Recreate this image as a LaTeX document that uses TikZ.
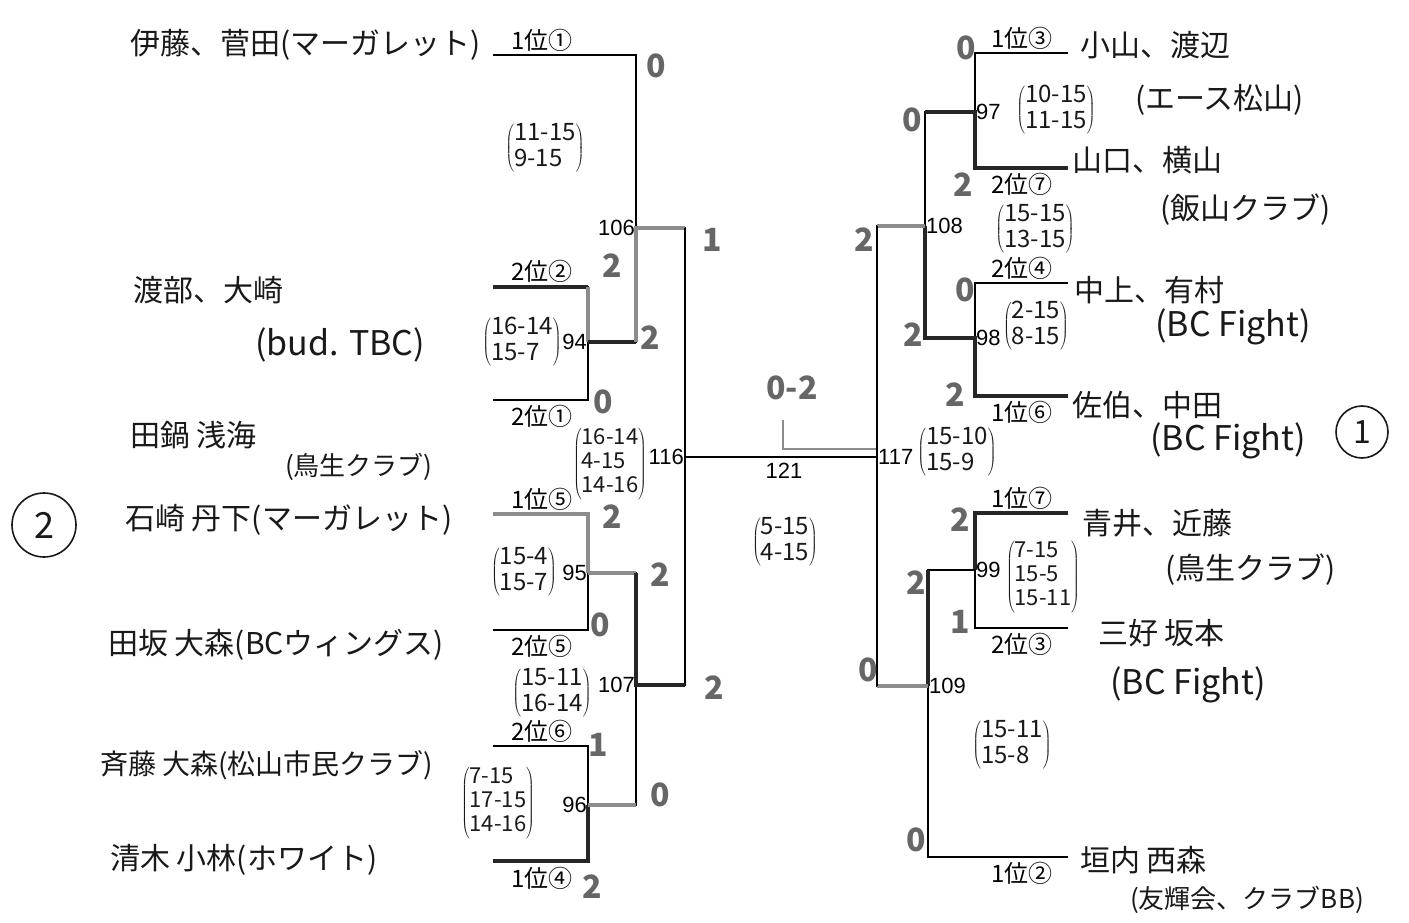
\documentclass[tikz,border=0pt]{standalone}
\usepackage{fontspec}
\setmainfont{Noto Sans CJK JP}
\newfontfamily\printfont{Liberation Sans}
\begin{document}
\begin{tikzpicture}[x=1pt,y=-1pt,
  thin/.style={line width=1.4pt,black},
  pen/.style={line width=3.4pt,black!85},
  pencil/.style={line width=3.4pt,black!45},
  lbl/.style={font=\fontsize{24}{24}\selectfont,inner sep=0pt},
  num/.style={font=\printfont\fontsize{22}{22}\selectfont,inner sep=1pt},
  hand/.style={font=\fontsize{30}{30}\selectfont,inner sep=0pt,black!90},
  handl/.style={font=\fontsize{34}{34}\selectfont,inner sep=0pt,black!90},
  score/.style={font=\fontsize{24}{26}\selectfont,inner sep=0pt,black!90},
  score3/.style={font=\fontsize{22}{24}\selectfont,inner sep=0pt,black!90},
  pts/.style={font=\fontsize{32}{32}\selectfont\bfseries,inner sep=0pt,black!60}]
\useasboundingbox (0,0) rectangle (1409,923);
\fill[white] (0,0) rectangle (1409,923);
% ---------- left bracket coordinates ----------
\coordinate (a1) at (493,55);  \coordinate (a1e) at (636,55);
\coordinate (a2) at (493,287); \coordinate (a2e) at (588,287);
\coordinate (a3) at (493,400); \coordinate (a3e) at (588,400);
\coordinate (m94) at (588,342); \coordinate (m94e) at (636,342);
\coordinate (m106) at (636,228); \coordinate (m106e) at (685,228);
\coordinate (a5) at (493,514); \coordinate (a5e) at (588,514);
\coordinate (a6) at (493,630); \coordinate (a6e) at (588,630);
\coordinate (m95) at (588,573); \coordinate (m95e) at (636,573);
\coordinate (a7) at (493,746); \coordinate (a7e) at (588,746);
\coordinate (a8) at (493,861); \coordinate (a8e) at (588,861);
\coordinate (m96) at (588,805); \coordinate (m96e) at (636,805);
\coordinate (m107) at (636,685); \coordinate (m107e) at (685,685);
\coordinate (m116) at (685,457); \coordinate (m117) at (877,457);
% ---------- right bracket coordinates ----------
\coordinate (b1) at (1068,53);  \coordinate (b1e) at (975,53);
\coordinate (b2) at (1068,168); \coordinate (b2e) at (975,168);
\coordinate (m97) at (975,112); \coordinate (m97e) at (925,112);
\coordinate (b3) at (1068,283); \coordinate (b3e) at (975,283);
\coordinate (b4) at (1068,396); \coordinate (b4e) at (975,396);
\coordinate (m98) at (975,338); \coordinate (m98e) at (925,338);
\coordinate (m108) at (925,226); \coordinate (m108e) at (877,226);
\coordinate (b5) at (1068,513); \coordinate (b5e) at (975,513);
\coordinate (b6) at (1068,628); \coordinate (b6e) at (975,628);
\coordinate (m99) at (975,570); \coordinate (m99e) at (928,570);
\coordinate (b8) at (1068,857); \coordinate (b8e) at (928,857);
\coordinate (m109) at (928,686); \coordinate (m109e) at (877,686);
\coordinate (t121) at (783,420); \coordinate (t121b) at (783,449); \coordinate (t121e) at (877,449);
% ---------- printed bracket ----------
\draw[thin] (a1) -- (a1e) -- (m94e) -- (m94) (a2) -- (a2e) -- (a3e) -- (a3);
\draw[thin] (m106) -- (m106e) -- (m107e) -- (m107);
\draw[thin] (a5) -- (a5e) -- (a6e) -- (a6) (m95) -- (m95e) -- (m96e) -- (m96);
\draw[thin] (a7) -- (a7e) -- (a8e) -- (a8);
\draw[thin] (m116) -- (m117);
\draw[thin] (b1) -- (b1e) -- (b2e) -- (b2) (m97) -- (m97e) -- (m98e) -- (m98);
\draw[thin] (b3) -- (b3e) -- (b4e) -- (b4) (m108) -- (m108e) -- (m109e) -- (m109);
\draw[thin] (b5) -- (b5e) -- (b6e) -- (b6) (m99) -- (m99e) -- (b8e) -- (b8);
% ---------- pen traced winners ----------
\draw[pen] (a2) -- (a2e);
\draw[pencil] (a2e) -- (m94);
\draw[pen] (m94) -- (m94e);
\draw[pencil] (m94e) -- (m106) -- (m106e);
\draw[line width=2.4pt] (m106e) -- (m107e);
\draw[pencil] (a5) -- (a5e) -- (m95);
\draw[pencil] (m95) -- (m95e);
\draw[pen] (m95e) -- (m107) -- (m107e);
\draw[pen] (a8) -- (a8e) -- (m96);
\draw[pencil] (m96) -- (m96e);
\draw[pencil,line width=2.6pt] (t121) -- (t121b) -- (t121e);
\draw[pen] (m97e) -- (m97) -- (b2e) -- (b2);
\draw[pen] (m108) -- (m98e) -- (m98) -- (b4e) -- (b4);
\draw[pencil] (m108e) -- (m108);
\draw[pen] (b5) -- (b5e) -- (m99);
\draw[line width=2.4pt] (m99) -- (m99e);
\draw[pen] (m99e) -- (m109);
\draw[pencil] (m109) -- (m109e);
\draw[line width=2pt] (m108e) -- (m109e);
% ---------- printed labels ----------
\node[lbl] (la1) at (542,40) {1位①};
\node[lbl] (la2) at (542,271) {2位②};
\node[lbl] (la3) at (542,416) {2位①};
\node[lbl] (la5) at (542,499) {1位⑤};
\node[lbl] (la6) at (542,646) {2位⑤};
\node[lbl] (la7) at (542,731) {2位⑥};
\node[lbl] (la8) at (542,878) {1位④};
\node[lbl] (lb1) at (1022,38) {1位③};
\node[lbl] (lb2) at (1022,184) {2位⑦};
\node[lbl] (lb3) at (1022,268) {2位④};
\node[lbl] (lb4) at (1022,412) {1位⑥};
\node[lbl] (lb5) at (1022,498) {1位⑦};
\node[lbl] (lb6) at (1022,644) {2位③};
\node[lbl] (lb8) at (1022,873) {1位②};
\node[num,anchor=east] (n106) at (m106) {106};
\node[num,anchor=east] (n94) at (m94) {94};
\node[num,anchor=east] (n116) at (m116) {116};
\node[num,anchor=east] (n95) at (m95) {95};
\node[num,anchor=east] (n107) at (m107) {107};
\node[num,anchor=east] (n96) at (m96) {96};
\node[num] (n121) at (784,471) {121};
\node[num,anchor=west] (n97) at (m97) {97};
\node[num,anchor=west] (n108) at (m108) {108};
\node[num,anchor=west] (n98) at (m98) {98};
\node[num,anchor=west] (n117) at (m117) {117};
\node[num,anchor=west] (n99) at (m99) {99};
\node[num,anchor=west] (n109) at (m109) {109};
% ---------- handwritten names ----------
\node[hand,anchor=west] (p1) at (130,45) {伊藤、菅田(マーガレット)};
\node[hand,anchor=west] (p2) at (133,290) {渡部、大崎};
\node[handl,anchor=west] (p2c) at (255,345) {(bud. TBC)};
\node[hand,anchor=west] (p3) at (130,435) {田鍋\ 浅海};
\node[hand,anchor=west,font=\fontsize{26}{26}\selectfont] (p3c) at (285,467) {(鳥生クラブ)};
\node[hand,anchor=west] (p5) at (125,520) {石崎\ 丹下(マーガレット)};
\node[hand,anchor=west] (p6) at (108,645) {田坂\ 大森(BCウィングス)};
\node[hand,anchor=west,font=\fontsize{28}{28}\selectfont] (p7) at (100,765) {斉藤\ 大森(松山市民クラブ)};
\node[hand,anchor=west] (p8) at (110,860) {清木\ 小林(ホワイト)};
\node[hand,draw,circle,line width=1.6pt,minimum size=64pt,font=\fontsize{36}{36}\selectfont] (rank2) at (44,525) {2};
\node[hand,anchor=west] (q1) at (1080,45) {小山、渡辺};
\node[hand,anchor=west] (q1c) at (1135,100) {(エース松山)};
\node[hand,anchor=west] (q2) at (1072,160) {山口、横山};
\node[hand,anchor=west] (q2c) at (1160,210) {(飯山クラブ)};
\node[hand,anchor=west] (q3) at (1074,290) {中上、有村};
\node[handl,anchor=west] (q3c) at (1155,327) {(BC Fight)};
\node[hand,anchor=west] (q4) at (1072,405) {佐伯、中田};
\node[handl,anchor=west] (q4c) at (1150,441) {(BC Fight)};
\node[hand,draw,circle,line width=1.6pt,minimum size=52pt,font=\fontsize{32}{32}\selectfont] (rank1) at (1362,432) {1};
\node[hand,anchor=west] (q5) at (1082,523) {青井、近藤};
\node[hand,anchor=west] (q5c) at (1165,570) {(鳥生クラブ)};
\node[hand,anchor=west] (q6) at (1098,633) {三好\ 坂本};
\node[handl,anchor=west] (q6c) at (1110,685) {(BC Fight)};
\node[hand,anchor=west] (q8) at (1080,860) {垣内\ 西森};
\node[hand,anchor=west,font=\fontsize{26}{26}\selectfont] (q8c) at (1130,900) {(友輝会、クラブBB)};
% ---------- game scores ----------
\node[score] (s106) at (545,148) {$\left(\begin{tabular}{@{}l@{}}11-15\\9-15\end{tabular}\right)$};
\node[score] (s94) at (522,342) {$\left(\begin{tabular}{@{}l@{}}16-14\\15-7\end{tabular}\right)$};
\node[score3] (s116) at (610,464) {$\left(\begin{tabular}{@{}l@{}}16-14\\4-15\\14-16\end{tabular}\right)$};
\node[score] (s95) at (524,572) {$\left(\begin{tabular}{@{}l@{}}15-4\\15-7\end{tabular}\right)$};
\node[score] (s107) at (552,693) {$\left(\begin{tabular}{@{}l@{}}15-11\\16-14\end{tabular}\right)$};
\node[score3] (s96) at (498,803) {$\left(\begin{tabular}{@{}l@{}}7-15\\17-15\\14-16\end{tabular}\right)$};
\node[score] (s121) at (785,542) {$\left(\begin{tabular}{@{}l@{}}5-15\\4-15\end{tabular}\right)$};
\node[score] (s97) at (1056,110) {$\left(\begin{tabular}{@{}l@{}}10-15\\11-15\end{tabular}\right)$};
\node[score] (s108) at (1035,229) {$\left(\begin{tabular}{@{}l@{}}15-15\\13-15\end{tabular}\right)$};
\node[score] (s98) at (1036,326) {$\left(\begin{tabular}{@{}l@{}}2-15\\8-15\end{tabular}\right)$};
\node[score] (s117) at (957,452) {$\left(\begin{tabular}{@{}l@{}}15-10\\15-9\end{tabular}\right)$};
\node[score3] (s99) at (1043,577) {$\left(\begin{tabular}{@{}l@{}}7-15\\15-5\\15-11\end{tabular}\right)$};
\node[score] (s109) at (1012,745) {$\left(\begin{tabular}{@{}l@{}}15-11\\15-8\end{tabular}\right)$};
% ---------- games won ----------
\node[pts] (g1) at (656,66) {0};
\node[pts] (g2) at (612,266) {2};
\node[pts] (g3) at (650,338) {2};
\node[pts] (g4) at (603,402) {0};
\node[pts] (g5) at (712,240) {1};
\node[pts] (g6) at (612,517) {2};
\node[pts] (g7) at (660,575) {2};
\node[pts] (g8) at (600,625) {0};
\node[pts] (g9) at (714,688) {2};
\node[pts] (g10) at (598,745) {1};
\node[pts] (g11) at (660,795) {0};
\node[pts] (g12) at (592,887) {2};
\node[pts] (h1) at (966,48) {0};
\node[pts] (h2) at (963,185) {2};
\node[pts] (h3) at (912,120) {0};
\node[pts] (h4) at (864,240) {2};
\node[pts] (h5) at (965,290) {0};
\node[pts] (h6) at (913,335) {2};
\node[pts] (h7) at (955,395) {2};
\node[pts] (h8) at (960,520) {2};
\node[pts] (h9) at (916,583) {2};
\node[pts] (h10) at (960,622) {1};
\node[pts] (h11) at (868,670) {0};
\node[pts] (h12) at (916,840) {0};
\node[pts] (final) at (792,388) {0-2};
\end{tikzpicture}
\end{document}
